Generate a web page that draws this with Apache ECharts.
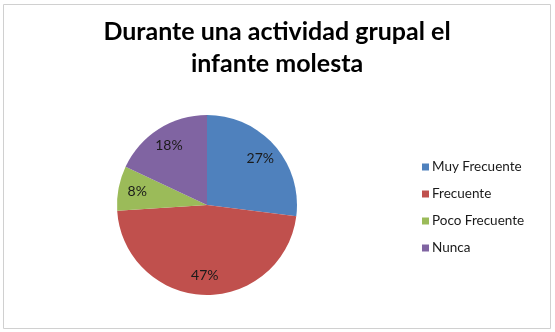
<!DOCTYPE html>
<html>
<head>
<meta charset="utf-8">
<script src="https://cdn.jsdelivr.net/npm/echarts@6/dist/echarts.min.js"></script>
<style>
  html, body { margin: 0; padding: 0; background: #fff; }
  #chart { width: 555px; height: 332px; }
</style>
</head>
<body>
<div id="chart"></div>
<script>
// Chart data
const categories = ['Muy Frecuente', 'Frecuente', 'Poco Frecuente', 'Nunca']
const values = [27, 47, 8, 18]
const colors = ['#4F81BD', '#C0504D', '#9BBB59', '#8064A2']

const pieData = categories.map((name, i) => ({ name: name, value: values[i] }))

const chart = echarts.init(document.getElementById('chart'))
chart.setOption({
  animation: false,
  color: colors,
  title: {
    text: 'Durante una actividad grupal el\ninfante molesta',
    left: 272,
    top: 11,
    textAlign: 'center',
    textStyle: {
      fontFamily: 'Lato',
      fontWeight: 'bold',
      fontSize: 25,
      lineHeight: 32,
      color: '#000'
    }
  },
  legend: {
    orient: 'vertical',
    left: 417,
    top: 155,
    itemWidth: 7,
    itemHeight: 7,
    itemGap: 13,
    icon: 'rect',
    data: categories,
    textStyle: {
      fontFamily: 'Lato',
      fontSize: 13.5,
      lineHeight: 14,
      color: '#1a1a1a',
      padding: [0, 0, 0, -2]
    }
  },
  graphic: [{
    type: 'rect',
    shape: { x: 3.5, y: 4.5, width: 547, height: 324 },
    style: { fill: 'none', stroke: '#d0d0d0', lineWidth: 1 },
    silent: true
  }],
  series: [
    {
      name: 'pie',
      type: 'pie',
      center: [207, 205],
      radius: 90,
      startAngle: 90,
      clockwise: true,
      label: { show: false },
      labelLine: { show: false },
      data: pieData
    },
    {
      // transparent helper ring so the percent labels sit at ~3/4 of the radius
      name: 'labels',
      type: 'pie',
      center: [207, 205],
      radius: 136,
      startAngle: 90,
      clockwise: true,
      silent: true,
      z: 3,
      itemStyle: { color: 'transparent' },
      label: {
        show: true,
        position: 'inside',
        formatter: '{d}%',
        fontFamily: 'Lato',
        fontSize: 14,
        color: '#1a1a1a'
      },
      labelLine: { show: false },
      emphasis: { disabled: true },
      data: pieData
    }
  ]
})
</script>
</body>
</html>
